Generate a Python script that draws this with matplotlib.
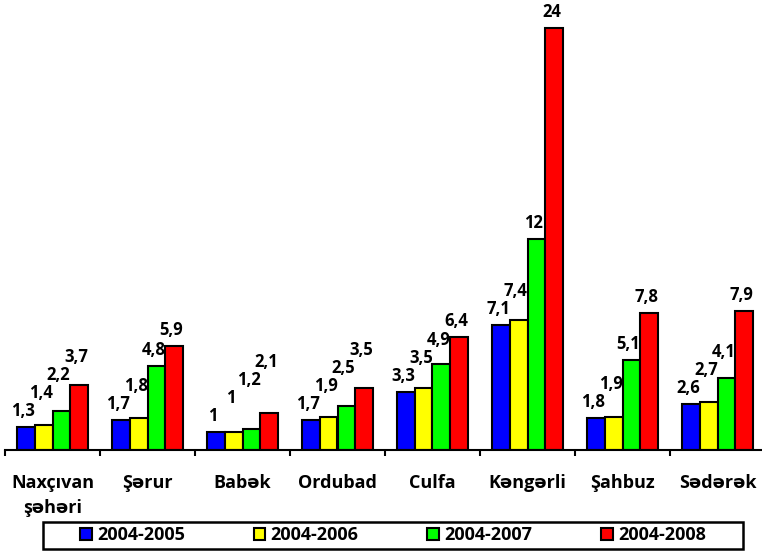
import numpy as np
import matplotlib
matplotlib.use("Agg")
import matplotlib.pyplot as plt
from matplotlib.patches import Rectangle

plt.rcParams['font.family'] = ['Open Sans', 'DejaVu Sans']
plt.rcParams['font.weight'] = 'bold'

categories = ['Naxçıvan\nşəhəri', 'Şərur', 'Babək', 'Ordubad', 'Culfa',
              'Kəngərli', 'Şahbuz', 'Sədərək']
series_names = ['2004-2005', '2004-2006', '2004-2007', '2004-2008']
v_2005 = [1.3, 1.7, 1, 1.7, 3.3, 7.1, 1.8, 2.6]
v_2006 = [1.4, 1.8, 1, 1.9, 3.5, 7.4, 1.9, 2.7]
v_2007 = [2.2, 4.8, 1.2, 2.5, 4.9, 12, 5.1, 4.1]
v_2008 = [3.7, 5.9, 2.1, 3.5, 6.4, 24, 7.8, 7.9]
colors = ['#0000ff', '#ffff00', '#00ff00', '#ff0000']

all_vals = [v_2005, v_2006, v_2007, v_2008]

fig = plt.figure(figsize=(7.62, 5.52), dpi=100)
ax = fig.add_axes([5 / 762, 1 - 450 / 552, 760 / 762, 440 / 552])
ymax = 25
px_per_unit = 440 / ymax

x = np.arange(len(categories))
w = 0.187
for i, (vals, col, name) in enumerate(zip(all_vals, colors, series_names)):
    ax.bar(x + (i - 1.5) * w, vals, w, color=col, edgecolor='black',
           linewidth=1.5, label=name)

# data labels: just above each bar, staggered so they climb within a group
base = 16 / px_per_unit
step = 18 / px_per_unit
for j in range(len(categories)):
    prev = -np.inf
    for i, vals in enumerate(all_vals):
        v = vals[j]
        ly = max(v + base, prev + step)
        prev = ly
        ax.annotate('{:g}'.format(v).replace('.', ','), (x[j] + (i - 1.5) * w, ly),
                    xytext=(-2, 0), textcoords='offset points',
                    ha='center', va='center', fontsize=12, fontweight='bold',
                    annotation_clip=False)

ax.set_xlim(-0.5, len(categories) - 0.5)
ax.set_ylim(0, ymax)
for s in ['top', 'right', 'left']:
    ax.spines[s].set_visible(False)
ax.spines['bottom'].set_linewidth(1.5)
ax.set_yticks([])
ax.set_xticks(x)
ax.set_xticklabels(categories, fontsize=13, fontweight='bold')
ax.tick_params(axis='x', which='major', length=0, pad=17)
ax.set_xticks(np.arange(-0.5, len(categories)), minor=True)
ax.tick_params(axis='x', which='minor', length=4, width=1.5, direction='out')
ax.get_xticklabels()[0].set_linespacing(1.55)

# legend box
fig.patches.append(Rectangle((43 / 762, 1 - 549 / 552), 700 / 762, 27 / 552,
                             transform=fig.transFigure, facecolor='white',
                             edgecolor='black', linewidth=1.8, zorder=0))
leg = fig.legend(loc='center', ncol=4, bbox_to_anchor=(393 / 762, 1 - 535.5 / 552),
                 fontsize=13, frameon=False, columnspacing=3.8,
                 handlelength=0.65, handleheight=0.65, handletextpad=0.3,
                 borderaxespad=0, borderpad=0)
for t in leg.get_texts():
    t.set_fontweight('bold')

fig.savefig('out.png', dpi=100)
